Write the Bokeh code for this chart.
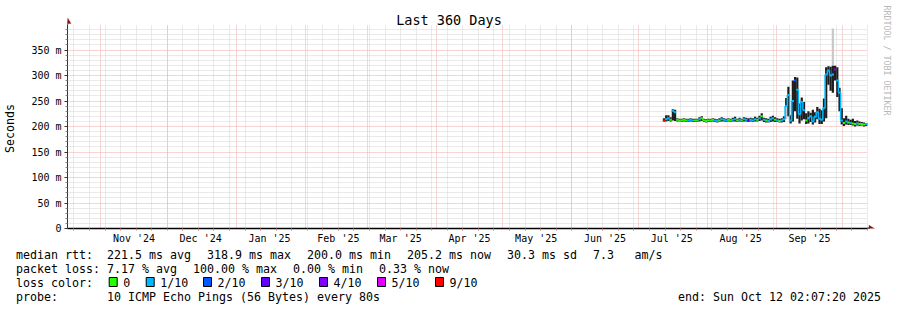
import math
import pandas as pd
from bokeh.plotting import figure
from bokeh.layouts import column
from bokeh.core.properties import value
from bokeh.models import (Range1d, LinearAxis, FixedTicker, Grid, Label,
                          PolyAnnotation, ColumnDataSource)
from bokeh.embed import file_html
from bokeh.resources import INLINE

# ---------------- data ----------------
graph_start = "2024-10-17 02:07:20"
graph_end = "2025-10-12 02:07:20"
first_day = "2025-07-12"

median_ms = [212, 214, 216, 213, 231, 228, 213, 212, 212, 213,
             212, 212, 213, 212, 212, 212, 214, 216, 212, 211,
             212, 212, 213, 212, 211, 212, 214, 213, 212, 213,
             212, 213, 214, 212, 213, 212, 214, 213, 212, 213,
             212, 214, 213, 216, 220, 213, 212, 211, 214, 216,
             213, 212, 211, 212, 214, 240, 262, 212, 250, 290,
             272, 224, 248, 232, 212, 216, 220, 210, 219, 228,
             215, 213, 236, 302, 310, 300, 302, 312, 290, 266,
             212, 207, 210, 208, 207, 206, 205, 206, 205, 205,
             204, 205]
smoke_lo_ms = [210, 210, 211, 210, 212, 211, 210, 210, 209, 210,
               209, 209, 210, 209, 209, 209, 210, 211, 209, 208,
               209, 209, 210, 209, 208, 209, 210, 210, 209, 210,
               209, 210, 210, 209, 210, 209, 210, 210, 209, 210,
               209, 210, 210, 211, 212, 209, 208, 208, 209, 210,
               209, 209, 208, 208, 209, 240, 220, 206, 210, 230,
               215, 206, 212, 214, 205, 206, 209, 204, 208, 214,
               205, 205, 210, 216, 282, 270, 266, 290, 258, 230,
               204, 201, 204, 203, 203, 202, 200, 202, 201, 202,
               200, 201]
smoke_hi_ms = [216, 222, 222, 218, 234, 233, 216, 215, 215, 216,
               215, 215, 216, 215, 215, 215, 218, 220, 215, 214,
               215, 215, 216, 215, 214, 216, 218, 216, 215, 216,
               215, 217, 219, 215, 217, 215, 218, 217, 216, 217,
               216, 219, 217, 221, 226, 217, 216, 215, 219, 221,
               218, 216, 215, 216, 220, 256, 278, 222, 290, 297,
               296, 245, 257, 248, 226, 230, 227, 233, 228, 238,
               235, 232, 255, 316, 318, 317, 319, 319, 316, 276,
               236, 216, 221, 215, 213, 215, 211, 212, 210, 209,
               208, 207]
loss_pings = [9, 1, 1, 0, 1, 1, 0, 0, 0, 0,
              0, 1, 1, 1, 0, 0, 1, 0, 0, 0,
              0, 0, 0, 1, 1, 0, 1, 1, 1, 0,
              0, 1, 1, 0, 1, 0, 1, 1, 3, 1,
              1, 1, 0, 1, 0, 1, 0, 1, 1, 1,
              0, 1, 0, 1, 1, 1, 1, 1, 1, 2,
              1, 1, 1, 1, 0, 1, 1, 1, 1, 1,
              1, 1, 1, 1, 1, 1, 1, 4, 1, 1,
              1, 0, 1, 0, 1, 0, 0, 1, 0, 0,
              0, 1]
# light-grey outer smoke (outlier pings)
outlier_idx = [55, 76]
outlier_lo_ms = [214, 319]
outlier_hi_ms = [240, 392]

y_tick_values = [0, 50, 100, 150, 200, 250, 300, 350]
y_tick_labels = ["0", "50 m", "100 m", "150 m", "200 m", "250 m", "300 m", "350 m"]
y_top = 400
month_labels = ["Nov '24", "Dec '24", "Jan '25", "Feb '25", "Mar '25", "Apr '25",
                "May '25", "Jun '25", "Jul '25", "Aug '25", "Sep '25"]
month_label_starts = ["2024-11-01", "2024-12-01", "2025-01-01", "2025-02-01", "2025-03-01",
                      "2025-04-01", "2025-05-01", "2025-06-01", "2025-07-01", "2025-08-01",
                      "2025-09-01"]

loss_levels = [0, 1, 2, 3, 4, 5, 9]
loss_names = ["0", "1/10", "2/10", "3/10", "4/10", "5/10", "9/10"]
loss_colors = ["#26ff00", "#00b8ff", "#0059ff", "#5e00ff", "#7e00ff", "#dd00ff", "#ff0000"]

stat_rows = [
    [(15.5, "median rtt:"), (106.5, "221.5 ms avg"), (206.5, "318.9 ms max"),
     (306.5, "200.0 ms min"), (406.5, "205.2 ms now"), (506.5, "30.3 ms sd"),
     (592.5, "7.3"), (634.0, "am/s")],
    [(15.5, "packet loss:"), (106.5, "7.17 % avg"), (192.5, "100.00 % max"),
     (292.5, "0.00 % min"), (378.5, "0.33 % now")],
    [(15.5, "loss color:")],
    [(15.5, "probe:"), (106.5, "10 ICMP Echo Pings (56 Bytes) every 80s"),
     (677.5, "end: Sun Oct 12 02:07:20 2025")],
]
loss_box_x = [108.7, 145.7, 203, 261, 319, 377, 435]

# ---------------- helpers ----------------
EPOCH = pd.Timestamp("1970-01-01")
DAY = 86400000
FONT = "DejaVu Sans Mono"
NB = "\u00a0"


def ms(ts):
    return int((pd.Timestamp(ts) - EPOCH) / pd.Timedelta(milliseconds=1))


def color_for(loss):
    c = loss_colors[0]
    for lv, col in zip(loss_levels, loss_colors):
        if loss >= lv:
            c = col
    return c


W = 897
H1 = 246          # main graph part
H2 = 310 - H1     # legend part
FRAME_L, FRAME_R, FRAME_T, FRAME_B = 67, 867, 24, 228

x0, x1 = ms(graph_start), ms(graph_end)
ms_per_px = (x1 - x0) / (FRAME_R - FRAME_L)
val_per_px = y_top / (FRAME_B - FRAME_T)
x_end_canvas = x1 + (W - FRAME_R) * ms_per_px
y_end_canvas = y_top + FRAME_T * val_per_px

p = figure(width=W, height=H1, x_range=Range1d(x0, x_end_canvas),
           y_range=Range1d(0, y_end_canvas),
           x_axis_type=None, y_axis_type=None, toolbar_location=None,
           output_backend="svg", min_border_left=FRAME_L, min_border_right=0,
           min_border_top=0, min_border_bottom=H1 - FRAME_B,
           background_fill_color="white", border_fill_color="white",
           outline_line_color=None)

# grids
month_starts = [ms(t) for t in pd.date_range("2024-11-01", "2025-10-01", freq="MS")]
week_starts = [ms(t) for t in pd.date_range("2024-10-20", "2025-10-12", freq="7D")]
y_minor = [v for v in range(10, y_top, 10) if v % 50 != 0]
MAJ_C, MIN_C = "#f0a8a8", "#d4d4d4"

if "cross_bounds" in Grid.properties():
    p.add_layout(Grid(dimension=0, ticker=FixedTicker(ticks=month_starts, minor_ticks=week_starts),
                      cross_bounds=(0, y_top),
                      grid_line_color=MAJ_C, grid_line_dash="1 1",
                      minor_grid_line_color=MIN_C, minor_grid_line_dash="1 1"))
    p.add_layout(Grid(dimension=1, ticker=FixedTicker(ticks=y_tick_values[1:], minor_ticks=y_minor),
                      cross_bounds=(x0, x1),
                      grid_line_color=MAJ_C, grid_line_dash="1 1",
                      minor_grid_line_color=MIN_C, minor_grid_line_dash="1 1"))
else:
    p.segment(x0=week_starts, x1=week_starts, y0=0, y1=y_top, line_color=MIN_C, line_dash="1 1")
    p.segment(x0=month_starts, x1=month_starts, y0=0, y1=y_top, line_color=MAJ_C, line_dash="1 1")
    p.segment(x0=x0, x1=x1, y0=y_minor, y1=y_minor, line_color=MIN_C, line_dash="1 1")
    p.segment(x0=x0, x1=x1, y0=y_tick_values[1:], y1=y_tick_values[1:], line_color=MAJ_C,
              line_dash="1 1")

# smoke + median
n = len(median_ms)
base = ms(first_day)
left = [base + i * DAY for i in range(n)]
right = [l + DAY for l in left]

p.quad(left=[left[i] for i in outlier_idx], right=[right[i] for i in outlier_idx],
       bottom=outlier_lo_ms, top=outlier_hi_ms, fill_color="#c8c8c8", line_color=None)
p.quad(left=left, right=right, bottom=smoke_lo_ms, top=smoke_hi_ms,
       fill_color="#1e1e1e", line_color=None)

cols = [color_for(l) for l in loss_pings]
seg = ColumnDataSource(dict(x0=left, x1=right, y0=median_ms, y1=median_ms, c=cols))
p.segment(x0="x0", x1="x1", y0="y0", y1="y1", line_color="c", line_width=2, source=seg)
vx, vy0, vy1, vc = [], [], [], []
for i in range(1, n):
    if cols[i] == cols[i - 1]:
        vx.append(left[i]); vy0.append(median_ms[i - 1]); vy1.append(median_ms[i]); vc.append(cols[i])
p.segment(x0=vx, x1=vx, y0=vy0, y1=vy1, line_color=vc, line_width=1.5)

# axes
yax = LinearAxis(ticker=FixedTicker(ticks=y_tick_values, minor_ticks=y_minor),
                 bounds=(0, y_top),
                 major_label_overrides={v: s for v, s in zip(y_tick_values, y_tick_labels)},
                 axis_line_color="#333333", major_tick_line_color="#333333",
                 minor_tick_line_color="#888888",
                 major_tick_out=3, major_tick_in=0, minor_tick_out=2, minor_tick_in=0,
                 major_label_standoff=3, major_label_text_font=FONT,
                 major_label_text_font_size="10px", major_label_text_color="black",
                 axis_label="Seconds" + NB * 4, axis_label_text_font=FONT,
                 axis_label_text_font_size="11.63px", axis_label_text_font_style="normal",
                 axis_label_text_color="black", axis_label_standoff=11)
p.add_layout(yax, "left")

label_pos = [ms(s) + 15 * DAY for s in month_label_starts]
xax = LinearAxis(ticker=FixedTicker(ticks=label_pos, minor_ticks=week_starts),
                 bounds=(x0, x1),
                 major_label_overrides={v: s for v, s in zip(label_pos, month_labels)},
                 axis_line_color="black", axis_line_width=1.5,
                 major_tick_line_color=None, major_tick_out=0, major_tick_in=0,
                 minor_tick_line_color="#e08080", minor_tick_out=2, minor_tick_in=0,
                 major_label_standoff=2, major_label_text_font=FONT,
                 major_label_text_font_size="10px", major_label_text_color="black")
p.add_layout(xax, "below")

# axis arrows (canvas pixels, top-left origin)
ARROW_C = "#8b1010"
p.add_layout(PolyAnnotation(xs=[67, 67.6, 67.6, 67], ys=[24, 24, 21, 21],
                            xs_units="canvas", ys_units="canvas",
                            fill_color="#333333", fill_alpha=1, line_color="#333333"))
p.add_layout(PolyAnnotation(xs=[64, 70.5, 67.25], ys=[23, 23, 17.5],
                            xs_units="canvas", ys_units="canvas",
                            fill_color=ARROW_C, fill_alpha=1, line_color=ARROW_C))
p.add_layout(PolyAnnotation(xs=[867, 869, 869, 867], ys=[227.3, 227.3, 228.7, 228.7],
                            xs_units="canvas", ys_units="canvas",
                            fill_color="black", fill_alpha=1, line_color="black"))
p.add_layout(PolyAnnotation(xs=[868.5, 868.5, 874], ys=[224.75, 231.25, 228],
                            xs_units="canvas", ys_units="canvas",
                            fill_color=ARROW_C, fill_alpha=1, line_color=ARROW_C))

p.add_layout(Label(x=448.5, y=19, x_units="canvas", y_units="canvas", text="Last 360 Days",
                   text_font=FONT, text_font_size="13.5px", text_align="center",
                   text_baseline="middle", text_color="black"))
p.add_layout(Label(x=886, y=60, x_units="canvas", y_units="canvas",
                   text="RRDTOOL / TOBI OETIKER", text_font=FONT, text_font_size="8.3px",
                   text_align="center", text_baseline="middle", text_color="#b8b8b8",
                   angle=-math.pi / 2))

# ---------------- legend / statistics block ----------------
p2 = figure(width=W, height=H2, x_range=Range1d(0, W), y_range=Range1d(H2, 0),
            x_axis_type=None, y_axis_type=None, toolbar_location=None,
            output_backend="svg", min_border=0, min_border_left=0, min_border_right=0,
            min_border_top=0, min_border_bottom=0,
            background_fill_color="white", border_fill_color="white",
            outline_line_color=None)
p2.xgrid.visible = False
p2.ygrid.visible = False

for fig in (p, p2):
    if "frame_align" in fig.properties():
        fig.frame_align = False

row_y = [254.3 - H1, 268.3 - H1, 282 - H1, 296 - H1]
tx, ty, tt = [], [], []
for ry, row in zip(row_y, stat_rows):
    for x, s in row:
        tx.append(x); ty.append(ry); tt.append(s)
for bx, name in zip(loss_box_x, loss_names):
    tx.append(bx + 14); ty.append(row_y[2]); tt.append(name)
p2.text(x=tx, y=ty, text=tt, text_font=value(FONT), text_font_size=value("11.63px"),
        text_baseline="middle", text_align="left", text_color="black")
p2.quad(left=loss_box_x, right=[b + 8 for b in loss_box_x],
        top=[row_y[2] - 5] * len(loss_box_x), bottom=[row_y[2] + 4] * len(loss_box_x),
        fill_color=loss_colors, line_color="black", line_width=1)

layout = column(p, p2, spacing=0)
open("out.html", "w").write(file_html(layout, INLINE))
